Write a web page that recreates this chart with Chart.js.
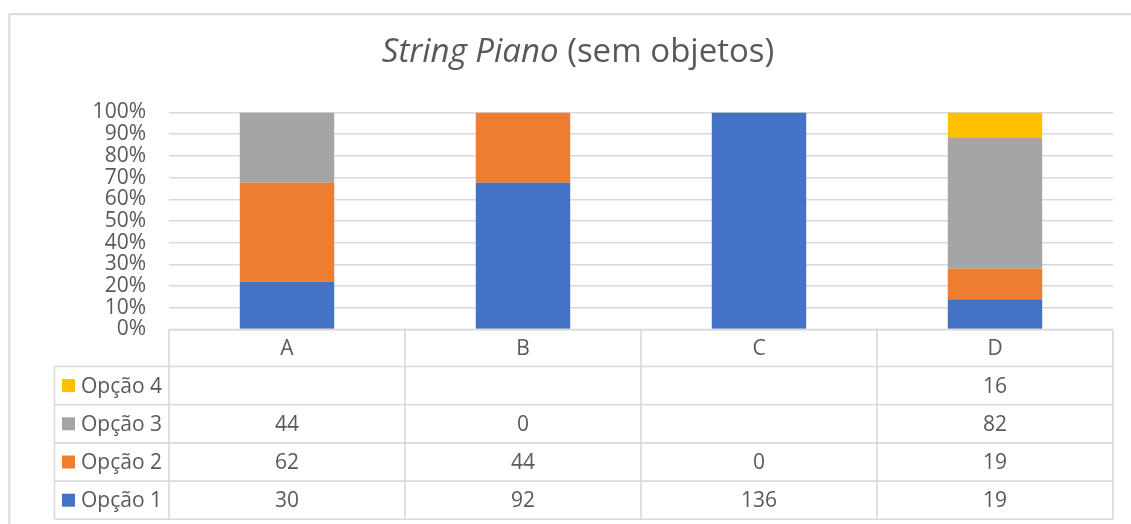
<!DOCTYPE html>
<html>
<head>
<meta charset="utf-8">
<script src="https://cdn.jsdelivr.net/npm/chart.js@4.4.1/dist/chart.umd.min.js"></script>
<style>
  html, body { margin: 0; padding: 0; background: #ffffff; }
  #wrap { width: 1131px; height: 524px; position: relative; }
</style>
</head>
<body>
<div id="wrap"><canvas id="chart" width="1131" height="524"></canvas></div>
<script>
// Answer counts per question, one array per option
const categories = ['A', 'B', 'C', 'D'];
const seriesNames = ['Opção 1', 'Opção 2', 'Opção 3', 'Opção 4'];
const opcao1 = [30, 92, 136, 19];
const opcao2 = [62, 44, 0, 19];
const opcao3 = [44, 0, null, 82];
const opcao4 = [null, null, null, 16];
const seriesColors = ['#4472C4', '#ED7D31', '#A5A5A5', '#FFC000'];
const titleItalic = 'String Piano';
const titleRegular = ' (sem objetos)';

const counts = [opcao1, opcao2, opcao3, opcao4];
const totals = categories.map((_, i) => counts.reduce((s, arr) => s + (arr[i] || 0), 0));
const toPercent = arr => arr.map((v, i) => v == null ? null : v / totals[i] * 100);

const FONT = '"Open Sans", "Noto Sans", sans-serif';
const TEXT = '#595959';
const LINE = '#D9D9D9';

// White background and the light outer frame
const framePlugin = {
  id: 'frame',
  beforeDraw(chart) {
    const ctx = chart.ctx;
    ctx.save();
    ctx.fillStyle = '#ffffff';
    ctx.fillRect(0, 0, chart.width, chart.height);
    ctx.strokeStyle = LINE;
    ctx.lineWidth = 2;
    ctx.strokeRect(9.3, 14.2, chart.width + 20, chart.height + 20);
    ctx.restore();
  }
};

// Title with an italic lead-in followed by regular text
const titlePlugin = {
  id: 'mixedTitle',
  afterDraw(chart) {
    const ctx = chart.ctx;
    ctx.save();
    const size = 33;
    const fItalic = 'italic ' + size + 'px ' + FONT;
    const fRegular = size + 'px ' + FONT;
    ctx.font = fItalic;
    const w1 = ctx.measureText(titleItalic).width;
    ctx.font = fRegular;
    const w2 = ctx.measureText(titleRegular).width;
    const cx = 578;
    const baseline = 62;
    let x = cx - (w1 + w2) / 2;
    ctx.fillStyle = TEXT;
    ctx.textBaseline = 'alphabetic';
    ctx.textAlign = 'left';
    ctx.font = fItalic;
    ctx.fillText(titleItalic, x, baseline);
    ctx.font = fRegular;
    ctx.fillText(titleRegular, x + w1, baseline);
    ctx.restore();
  }
};

// Data table under the plot: category header row plus one row per option
const tablePlugin = {
  id: 'dataTable',
  afterDraw(chart) {
    const ctx = chart.ctx;
    const area = chart.chartArea;
    const xScale = chart.scales.x;
    const n = categories.length;
    const band = (area.right - area.left) / n;
    const top = area.bottom;
    const headerH = 37;
    const rowH = 38.2;
    const legendLeft = 54.5;
    const rows = [3, 2, 1, 0]; // top row shows the last option
    const bottom = top + headerH + rows.length * rowH;

    ctx.save();
    ctx.strokeStyle = LINE;
    ctx.lineWidth = 1.6;
    ctx.beginPath();
    ctx.moveTo(area.left, top);
    ctx.lineTo(area.right, top);
    for (let k = 0; k <= rows.length; k++) {
      const y = top + headerH + k * rowH;
      ctx.moveTo(legendLeft, y);
      ctx.lineTo(area.right, y);
    }
    ctx.moveTo(legendLeft, top + headerH);
    ctx.lineTo(legendLeft, bottom);
    for (let i = 0; i <= n; i++) {
      const x = area.left + i * band;
      ctx.moveTo(x, top);
      ctx.lineTo(x, bottom);
    }
    ctx.stroke();

    ctx.fillStyle = TEXT;
    ctx.font = '21px ' + FONT;
    ctx.textBaseline = 'middle';
    ctx.textAlign = 'center';
    categories.forEach((c, i) => {
      ctx.fillText(c, xScale.getPixelForValue(i), top + headerH / 2 + 1);
    });

    rows.forEach((s, r) => {
      const cy = top + headerH + r * rowH + rowH / 2;
      ctx.fillStyle = seriesColors[s];
      ctx.fillRect(62, cy - 6.5, 13, 13);
      ctx.fillStyle = TEXT;
      ctx.textAlign = 'left';
      ctx.fillText(seriesNames[s], 81, cy + 1);
      ctx.textAlign = 'center';
      counts[s].forEach((v, i) => {
        if (v != null) ctx.fillText(String(v), xScale.getPixelForValue(i), cy + 1);
      });
    });
    ctx.restore();
  }
};

const datasets = counts.map((arr, s) => ({
  label: seriesNames[s],
  data: toPercent(arr),
  backgroundColor: seriesColors[s],
  borderWidth: 0,
  categoryPercentage: 1,
  barPercentage: 0.4,
  stack: 'all'
}));

new Chart(document.getElementById('chart'), {
  type: 'bar',
  data: { labels: categories, datasets },
  options: {
    responsive: false,
    devicePixelRatio: 1,
    animation: false,
    layout: { padding: { top: 112.5, left: 0, right: 18, bottom: 194.5 } },
    plugins: {
      legend: { display: false },
      title: { display: false },
      tooltip: { enabled: false }
    },
    scales: {
      x: {
        stacked: true,
        display: false
      },
      y: {
        stacked: true,
        min: 0,
        max: 100,
        afterFit(scale) { scale.width = 169; },
        border: { display: false },
        grid: { color: LINE, lineWidth: 1.5, drawTicks: false },
        ticks: {
          stepSize: 10,
          autoSkip: false,
          padding: 23,
          color: TEXT,
          font: { family: FONT, size: 21 },
          callback: v => v + '%'
        }
      }
    }
  },
  plugins: [framePlugin, titlePlugin, tablePlugin]
});
</script>
</body>
</html>
